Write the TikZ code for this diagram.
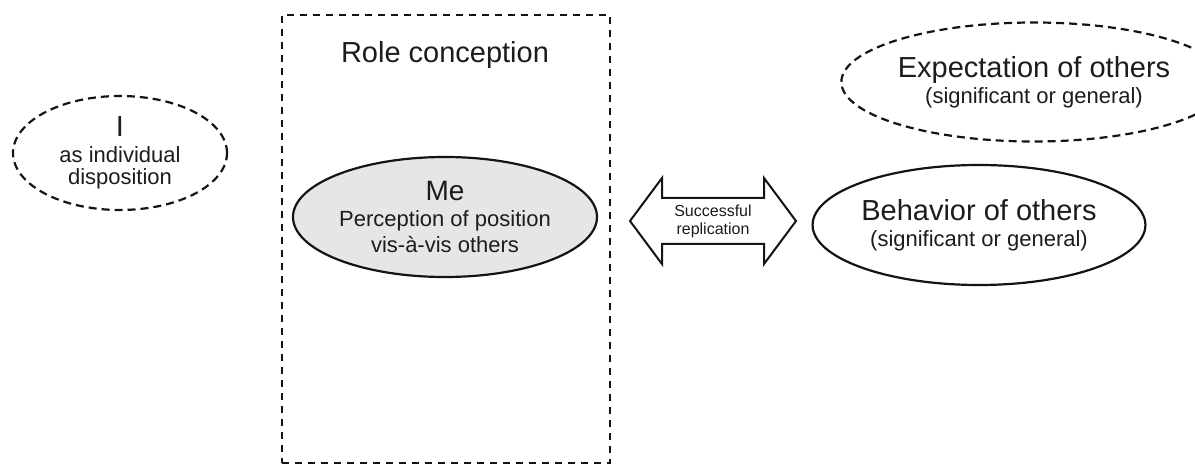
\documentclass[tikz,border=0pt]{standalone}
\usepackage{fontspec}
\setmainfont{Liberation Sans}
\usepackage{tikz}
\usetikzlibrary{shapes.geometric,calc}
\definecolor{inkgray}{HTML}{141414}
\definecolor{txtgray}{HTML}{1C1C1C}
\definecolor{mefill}{HTML}{E6E6E6}

\tikzset{
  bigtxt/.style={font=\fontsize{29}{31}\selectfont},
  ovalbase/.style={ellipse, draw=inkgray, line width=2.2pt, inner sep=0pt,
    align=center, text=txtgray, font=\fontsize{22}{26}\selectfont},
  dashoval/.style={ovalbase, dash pattern=on 8pt off 5pt},
  solidoval/.style={ovalbase},
  rolebox/.style={draw=inkgray, line width=2.3pt, dash pattern=on 7pt off 6pt,
    inner sep=0pt},
}

\begin{document}
\begin{tikzpicture}[x=1pt, y=-1pt]
\useasboundingbox (0,0) rectangle (1195,465);
% role conception frame
\node[rolebox, minimum width=328pt, minimum height=448pt] (role) at (446,239) {};
\node[bigtxt, text=txtgray, anchor=base] (roletitle) at (445,63) {Role conception};
% ovals
\node[dashoval, minimum width=214pt, minimum height=114pt] (iself) at (120,153)
  {{\fontsize{29}{26}\selectfont I}\\as individual\\[-4pt]disposition};
\node[solidoval, fill=mefill, minimum width=304pt, minimum height=120pt] (me) at (445,217)
  {{\fontsize{28}{26}\selectfont Me}\\Perception of position\\vis-à-vis others};
\node[dashoval, minimum width=322pt, minimum height=119pt] (expect) at (1034,82)
  {{\fontsize{29}{26}\selectfont Expectation of others}\\(significant or general)};
\node[solidoval, minimum width=318pt, minimum height=120pt] (behav) at (979,225)
  {{\fontsize{29}{26}\selectfont Behavior of others}\\(significant or general)};
% double arrow
\node[align=center, text=txtgray, font=\fontsize{16}{18}\selectfont, inner sep=0pt] (rep) at (713,221)
  {Successful\\replication};
\draw[inkgray, line width=2pt, line join=miter]
  ($(rep)+(-83,0)$) -- ($(rep)+(-51,-43)$) -- ($(rep)+(-51,-23)$)
  -- ($(rep)+(51,-23)$) -- ($(rep)+(51,-43)$) -- ($(rep)+(83,0)$)
  -- ($(rep)+(51,43)$) -- ($(rep)+(51,23)$) -- ($(rep)+(-51,23)$)
  -- ($(rep)+(-51,43)$) -- cycle;
\end{tikzpicture}
\end{document}
